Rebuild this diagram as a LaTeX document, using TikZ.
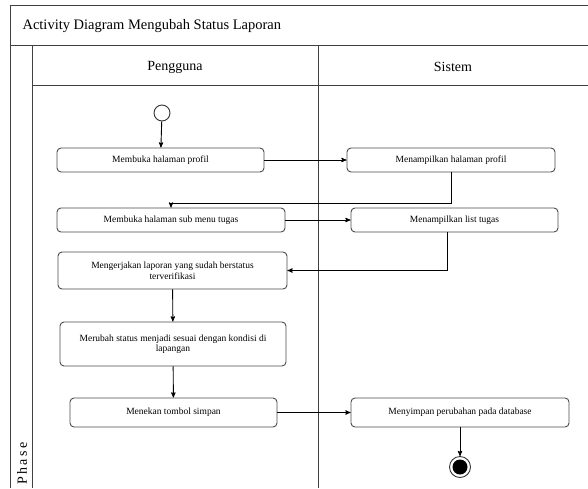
\documentclass[tikz,border=0pt]{standalone}
\usepackage{fontspec}
\setmainfont{Liberation Serif}
\usetikzlibrary{arrows}
\tikzset{
    lane/.style={draw=black!75, line width=0.9pt},
    act/.style={
        draw=black!70,
        line width=0.9pt,
        rounded corners=4pt,
        fill=white,
        align=center,
        inner sep=1pt,
        minimum height=24pt,
        font=\fontsize{9.5}{10.5}\selectfont},
    start/.style={circle, draw=black!80, line width=0.9pt, minimum size=16pt, inner sep=0pt},
    stop/.style={circle, draw=black!80, line width=0.9pt, minimum size=21pt, inner sep=0pt},
    flow/.style={draw, ->, >=stealth', line width=0.9pt}}

\begin{document}
\begin{tikzpicture}[x=1pt, y=-1pt]
        \useasboundingbox (0,0) rectangle (588,488);

        % frame and lanes
        \draw[lane] (588,5) -- (10,5) -- (10,488);
        \draw[lane] (10,45) -- (588,45);
        \draw[lane] (32,45) -- (32,488);
        \draw[lane] (32,85) -- (588,85);
        \draw[lane] (318,45) -- (318,488);

        \node[anchor=west, font=\fontsize{14.5}{16}\selectfont] (title) at (19,26) {Activity Diagram Mengubah Status Laporan};
        \node[font=\fontsize{14}{16}\selectfont] (pengguna) at (175,67) {Pengguna};
        \node[font=\fontsize{14}{16}\selectfont] (sistem) at (453,67) {Sistem};
        \node[rotate=90, anchor=west, font=\fontsize{14}{16}\selectfont] (phase) at (22,488) {P\,h\,a\,s\,e};

        \node[start] (mulai) at (162,113) {};
        \node[act, minimum width=207pt] (profil) at (160.5,160) {Membuka halaman profil};
        \node[act, minimum width=208pt] (tampilprofil) at (451,160) {Menampilkan halaman profil};
        \node[act, minimum width=228pt] (submenu) at (171,220) {Membuka halaman sub menu tugas};
        \node[act, minimum width=207pt] (listtugas) at (454.5,220) {Menampilkan list tugas};
        \node[act, minimum width=229pt, minimum height=37pt] (kerjakan) at (172.5,270.5) {Mengerjakan laporan yang sudah berstatus\\terverifikasi};
        \node[act, minimum width=226pt, minimum height=44pt] (ubah) at (173,344) {Merubah status menjadi sesuai dengan kondisi di\\lapangan};
        \node[act, minimum width=207pt, minimum height=29pt] (simpan) at (173.5,412.5) {Menekan tombol simpan};
        \node[act, minimum width=218pt, minimum height=29pt] (database) at (460,412.5) {Menyimpan perubahan pada database};
        \node[stop] (selesai) at (460,467) {};
        \fill (selesai) circle (7.5pt);

        \draw[flow] (mulai) -- (profil);
        \draw[flow] (profil) -- (tampilprofil);
        \draw[flow] (tampilprofil.south) -- ++(0,31) -| (submenu.north);
        \draw[flow] (submenu) -- (listtugas);
        \draw[flow] ([xshift=-7pt]listtugas.south) |- (kerjakan.east);
        \draw[flow] (kerjakan) -- (ubah);
        \draw[flow] (ubah) -- (simpan);
        \draw[flow] (simpan) -- (database);
        \draw[flow] (database) -- (selesai);
    \end{tikzpicture}
\end{document}
